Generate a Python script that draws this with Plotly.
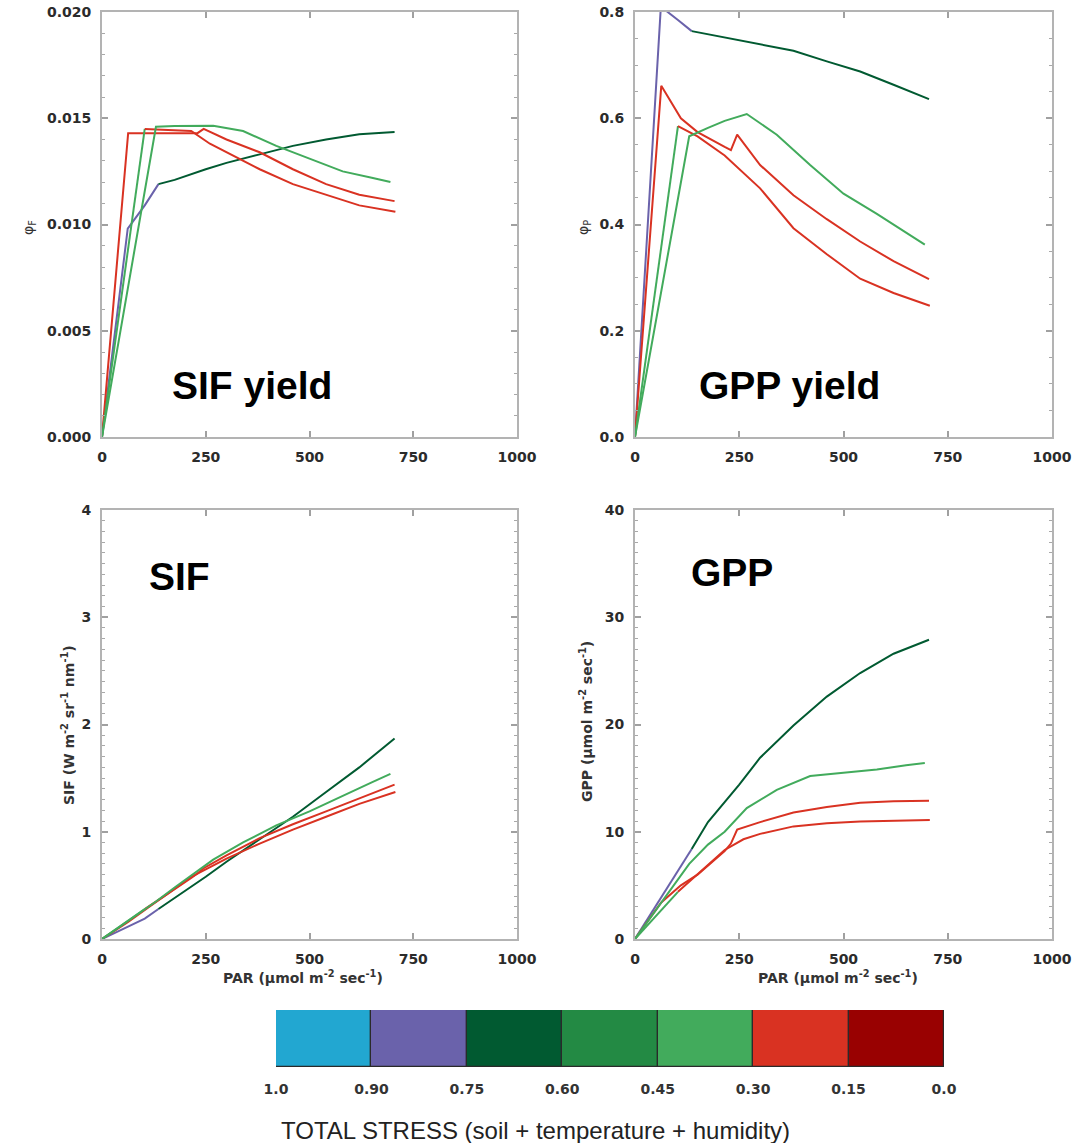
import plotly.graph_objects as go

W, H = 1075, 1143

# ---------------- colour classes (TOTAL STRESS) ----------------
stress_labels = ["1.0", "0.90", "0.75", "0.60", "0.45", "0.30", "0.15", "0.0"]
stress_edges = [1.0, 0.90, 0.75, 0.60, 0.45, 0.30, 0.15, 0.0]
stress_colors = ["#22a7d1", "#6a62ab", "#015a31", "#238a44", "#42ab5c", "#d93222", "#990101"]

# ---------------- curves ----------------
# Curve A : purple -> dark green
par_A = [0, 62, 103, 136, 175, 250, 300, 380, 460, 540, 620, 705]
stress_A = [0.8, 0.8, 0.8, 0.8, 0.7, 0.7, 0.7, 0.7, 0.7, 0.7, 0.7, 0.7]
sify_A = [0, 0.0098, 0.0109, 0.0119, 0.0121, 0.0126, 0.0129, 0.0133, 0.0137, 0.0140, 0.01425, 0.01435]
gppy_A = [0, 0.81, 0.785, 0.764, 0.758, 0.747, 0.740, 0.727, 0.707, 0.688, 0.663, 0.636]
sif_A = [0, 0.11, 0.19, 0.28, 0.38, 0.58, 0.72, 0.93, 1.14, 1.37, 1.60, 1.87]
gpp_A = [0, 3.8, 6.3, 8.4, 10.9, 14.4, 16.9, 19.9, 22.6, 24.8, 26.6, 27.9]

# Curve B : red
par_B = [0, 63, 110, 150, 215, 230, 245, 300, 380, 460, 540, 620, 705]
stress_B = [0.2] * 13
sify_B = [0, 0.0143, 0.0143, 0.0143, 0.0143, 0.0143, 0.0145, 0.0140, 0.0134, 0.0126, 0.0119, 0.0114, 0.0111]
gppy_B = [0, 0.661, 0.600, 0.574, 0.546, 0.540, 0.569, 0.512, 0.455, 0.410, 0.368, 0.331, 0.297]
sif_B = [0, 0.16, 0.29, 0.40, 0.57, 0.61, 0.66, 0.78, 0.94, 1.07, 1.19, 1.31, 1.44]
gpp_B = [0, 3.4, 5.0, 6.0, 8.2, 8.9, 10.2, 10.9, 11.8, 12.3, 12.7, 12.85, 12.9]

# Curve C : light green -> red
par_C = [0, 103, 150, 215, 260, 300, 380, 460, 540, 620, 707]
stress_C = [0.35, 0.35, 0.2, 0.2, 0.2, 0.2, 0.2, 0.2, 0.2, 0.2, 0.2]
sify_C = [0, 0.0145, 0.01447, 0.0144, 0.0138, 0.0134, 0.0126, 0.0119, 0.0114, 0.0109, 0.0106]
gppy_C = [0, 0.585, 0.566, 0.530, 0.497, 0.468, 0.393, 0.344, 0.298, 0.271, 0.247]
sif_C = [0, 0.28, 0.40, 0.58, 0.67, 0.75, 0.89, 1.02, 1.14, 1.26, 1.37]
gpp_C = [0, 4.4, 6.0, 8.3, 9.3, 9.8, 10.5, 10.8, 10.95, 11.05, 11.1]

# Curve D : light green
par_D = [0, 130, 175, 215, 268, 340, 420, 500, 580, 650, 695]
stress_D = [0.35] * 11
sify_D = [0, 0.0146, 0.01463, 0.01465, 0.01465, 0.0144, 0.0137, 0.0131, 0.0125, 0.0122, 0.0120]
gppy_D = [0, 0.566, 0.582, 0.595, 0.608, 0.569, 0.512, 0.458, 0.420, 0.385, 0.362]
sif_D = [0, 0.35, 0.48, 0.59, 0.74, 0.90, 1.06, 1.19, 1.33, 1.46, 1.54]
gpp_D = [0, 7.0, 8.8, 10.0, 12.2, 13.9, 15.2, 15.5, 15.8, 16.2, 16.4]

curves = [
    (par_A, stress_A, sify_A, gppy_A, sif_A, gpp_A),
    (par_B, stress_B, sify_B, gppy_B, sif_B, gpp_B),
    (par_C, stress_C, sify_C, gppy_C, sif_C, gpp_C),
    (par_D, stress_D, sify_D, gppy_D, sif_D, gpp_D),
]


def color_of(s):
    for i in range(len(stress_colors)):
        if stress_edges[i] >= s > stress_edges[i + 1]:
            return stress_colors[i]
    return stress_colors[-1]


fig = go.Figure()


def add_curve(par, stress, vals, xa, ya):
    # split into runs of identical colour; segment i->i+1 uses colour of point i+1
    seg_cols = [color_of(stress[i + 1]) for i in range(len(par) - 1)]
    start = 0
    for i in range(1, len(seg_cols) + 1):
        if i == len(seg_cols) or seg_cols[i] != seg_cols[start]:
            xs = par[start:i + 1]
            ys = vals[start:i + 1]
            fig.add_trace(go.Scatter(x=xs, y=ys, mode="lines", xaxis=xa, yaxis=ya,
                                     line=dict(color=seg_cols[start], width=2),
                                     showlegend=False, hoverinfo="skip"))
            start = i


panel_axes = [("x", "y"), ("x2", "y2"), ("x3", "y3"), ("x4", "y4")]
for par, stress, sy, gy, sf, gp in curves:
    for vals, (xa, ya) in zip([sy, gy, sf, gp], panel_axes):
        add_curve(par, stress, vals, xa, ya)

# colour bar drawn as bars
cb_pos = [i + 0.5 for i in range(len(stress_colors))]
fig.add_trace(go.Bar(x=cb_pos, y=[1] * len(stress_colors), width=1,
                     marker=dict(color=stress_colors, line=dict(color="#2a2a2a", width=1.2)),
                     xaxis="x5", yaxis="y5", showlegend=False, hoverinfo="skip"))


# ---------------- layout ----------------
def px_x(p):
    return p / W


def px_y(p):
    return 1 - p / H


TICKFONT = dict(family="DejaVu Sans", size=14, color="#2b2b2b", weight="bold")
AXCOL = "#b3b3b3"


def xaxis_cfg(x0, x1, anchor):
    return dict(domain=[px_x(x0), px_x(x1)], range=[0, 1000], anchor=anchor,
                tickvals=[0, 250, 500, 750, 1000], ticks="inside", ticklen=6,
                tickcolor="#a0a0a0", tickwidth=1.5, showline=True, linecolor=AXCOL,
                linewidth=2, mirror="ticks", showgrid=False, zeroline=False,
                tickfont=TICKFONT, ticklabelstandoff=6, ticklabeloverflow="allow",
                automargin=False, fixedrange=True)


def yaxis_cfg(y0, y1, anchor, rng, dtick, minor, fmt):
    return dict(domain=[px_y(y1), px_y(y0)], range=rng, anchor=anchor, dtick=dtick,
                tick0=0, ticks="inside", ticklen=6, tickcolor="#a0a0a0", tickwidth=1.5,
                minor=dict(ticks="inside", dtick=minor, tick0=0, ticklen=3,
                           tickcolor="#a8a8a8", tickwidth=1.2),
                showline=True, linecolor=AXCOL, linewidth=2, mirror="ticks",
                showgrid=False, zeroline=False, tickfont=TICKFONT, tickformat=fmt,
                ticklabelstandoff=6, ticklabeloverflow="allow",
                automargin=False, fixedrange=True)


LX0, LX1 = 102, 517
RX0, RX1 = 635, 1052
TY0, TY1 = 12, 437
BY0, BY1 = 510, 939

fig.update_layout(
    width=W, height=H, margin=dict(l=0, r=0, t=0, b=0),
    paper_bgcolor="white", plot_bgcolor="white",
    font=dict(family="DejaVu Sans", color="#222"),
    bargap=0,
    xaxis=xaxis_cfg(LX0, LX1, "y"),
    yaxis=yaxis_cfg(TY0, TY1, "x", [0, 0.020], 0.005, 0.001, ".3f"),
    xaxis2=xaxis_cfg(RX0, RX1, "y2"),
    yaxis2=yaxis_cfg(TY0, TY1, "x2", [0, 0.8], 0.2, 0.05, ".1f"),
    xaxis3=xaxis_cfg(LX0, LX1, "y3"),
    yaxis3=yaxis_cfg(BY0, BY1, "x3", [0, 4], 1, 0.1, "d"),
    xaxis4=xaxis_cfg(RX0, RX1, "y4"),
    yaxis4=yaxis_cfg(BY0, BY1, "x4", [0, 40], 10, 1, "d"),
    xaxis5=dict(domain=[px_x(276), px_x(944)], range=[0, len(stress_colors)], anchor="y5",
                tickvals=list(range(len(stress_labels))), ticktext=stress_labels,
                showline=False, showgrid=False, zeroline=False, ticks="",
                tickfont=dict(family="DejaVu Sans", size=14, color="#333", weight="bold"),
                ticklabelstandoff=12, ticklabeloverflow="allow",
                automargin=False, fixedrange=True),
    yaxis5=dict(domain=[px_y(1067), px_y(1010)], range=[0, 1], anchor="x5",
                showticklabels=False, showline=False, showgrid=False, zeroline=False,
                ticks="", automargin=False, fixedrange=True),
)

ann = []
BIG = dict(family="Liberation Sans", size=39, color="black")
for txt, cx, cy in [("<b>SIF yield</b>", 252, 385), ("<b>GPP yield</b>", 789, 385),
                    ("<b>SIF</b>", 179, 576), ("<b>GPP</b>", 732, 572)]:
    ann.append(dict(text=txt, x=px_x(cx), y=px_y(cy), font=BIG))

SMALL = dict(family="DejaVu Sans", size=14, color="#333")
LAB = dict(family="DejaVu Sans", size=14, color="#333", weight="bold")
ann += [
    dict(text="φ<sub>F</sub>", x=px_x(29), y=px_y(228), textangle=-90, font=SMALL),
    dict(text="φ<sub>P</sub>", x=px_x(584), y=px_y(228), textangle=-90, font=SMALL),
    dict(text="SIF (W m<sup>-2</sup> sr<sup>-1</sup> nm<sup>-1</sup>)", x=px_x(68),
         y=px_y(725), textangle=-90, font=LAB),
    dict(text="GPP (μmol m<sup>-2</sup> sec<sup>-1</sup>)", x=px_x(586), y=px_y(722),
         textangle=-90, font=LAB),
    dict(text="PAR (μmol m<sup>-2</sup> sec<sup>-1</sup>)", x=px_x(303), y=px_y(977),
         font=LAB),
    dict(text="PAR (μmol m<sup>-2</sup> sec<sup>-1</sup>)", x=px_x(838), y=px_y(977),
         font=LAB),
    dict(text="TOTAL STRESS (soil + temperature + humidity)", x=px_x(279), y=px_y(1130),
         xanchor="left", font=dict(family="Liberation Sans", size=24, color="#222")),
]
for a in ann:
    a.setdefault("xref", "paper")
    a.setdefault("yref", "paper")
    a.setdefault("showarrow", False)
    a.setdefault("xanchor", "center")
    a.setdefault("yanchor", "middle")
fig.update_layout(annotations=ann)

# remove the browser's default 8px page margin so the figure fills the window exactly
fig.write_html("out.html", config={"displayModeBar": False},
               post_script="document.body.style.margin='0px';document.body.style.overflow='hidden';")
